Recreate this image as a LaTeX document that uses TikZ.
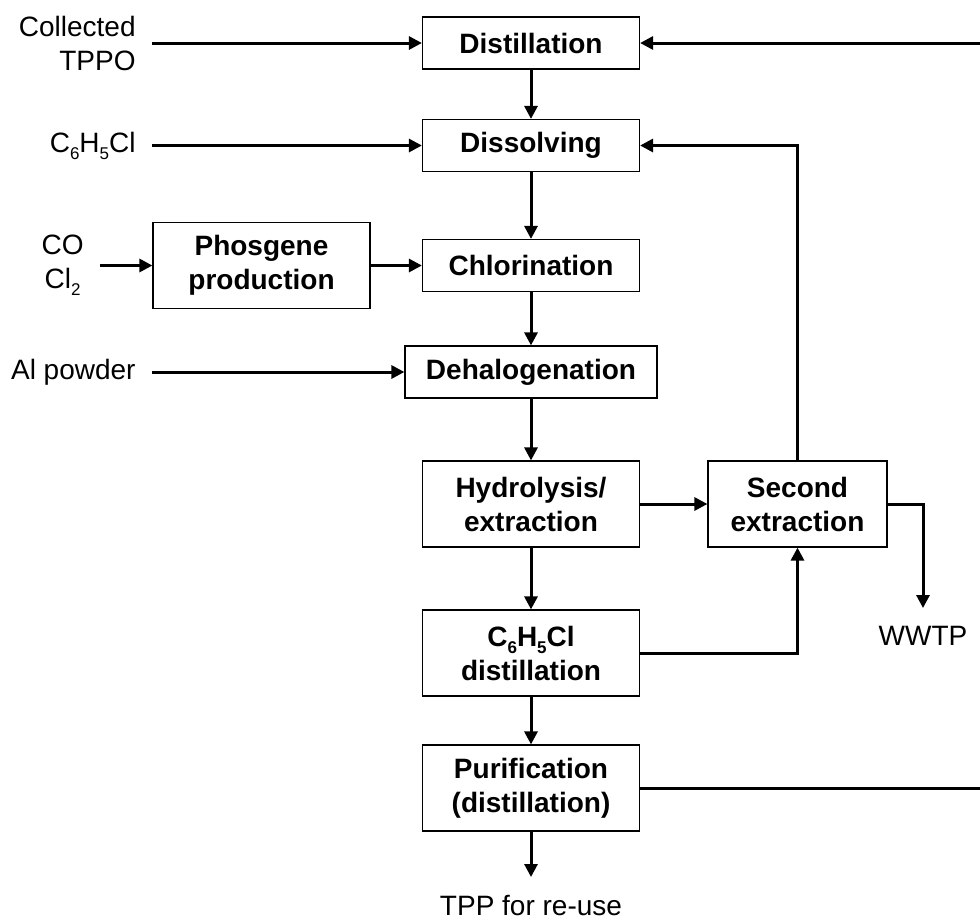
\documentclass[tikz,border=0pt]{standalone}
\usepackage{fontspec}
\setmainfont{Liberation Sans}
\usetikzlibrary{arrows.meta}

\newcommand{\chemsub}[1]{\raisebox{-0.25em}{\fontsize{8.5}{8.5}\selectfont #1}}
\newcommand{\cbz}{C\chemsub{6}H\chemsub{5}Cl}

\begin{document}
\begin{tikzpicture}[x=0.5pt, y=-0.5pt, font=\fontsize{14}{17}\selectfont,
  box/.style={draw, line width=0.6pt, align=center, inner sep=0pt,
    font=\fontsize{14}{17}\selectfont\bfseries,
    minimum width=108.5pt, minimum height=26pt},
  tallbox/.style={box, minimum height=43pt},
  widebox/.style={box, minimum width=126pt},
  feed/.style={anchor=east, inner xsep=8pt, inner ysep=0pt},
  outlet/.style={anchor=north, inner ysep=9pt},
  flow/.style={line width=1.5pt, -{Triangle[length=6.5pt, width=6.5pt]}}]
  \useasboundingbox (0,0) rectangle (980,917);
  % process units
  \node[box] (dist) at (531,43) {Distillation};
  \node[box] (diss) at (531,145.5) {Dissolving};
  \node[tallbox] (phos) at (261.5,265.5) {Phosgene\\production};
  \node[box] (chlor) at (531,265.5) {Chlorination};
  \node[widebox] (dehal) at (531,372) {Dehalogenation};
  \node[widebox, tallbox] (hydro) at (531,504) {Hydrolysis/\\extraction};
  \node[tallbox, minimum width=89.5pt] (second) at (797.5,504) {Second\\extraction};
  \node[tallbox] (cdist) at (531,653) {\cbz\\distillation};
  \node[tallbox] (purif) at (531,788) {Purification\\(distillation)};
  % feeds and outlets
  \node[feed, align=right] (tppo) at (152,43) {Collected\\TPPO};
  \node[feed] (cbin) at (152,145.5) {\cbz};
  \node[feed, align=center] (gas) at (100,265.5) {CO\\Cl\chemsub{2}};
  \node[feed] (al) at (152,372) {Al powder};
  \node[outlet] (wwtp) at (923,608) {WWTP};
  \node[outlet] (tpp) at (531,877) {TPP for re-use};
  \coordinate (ret) at (1010,788);
  % main line
  \draw[flow] (dist) -- (diss);
  \draw[flow] (diss) -- (chlor);
  \draw[flow] (chlor) -- (dehal);
  \draw[flow] (dehal) -- (hydro);
  \draw[flow] (hydro) -- (cdist);
  \draw[flow] (cdist) -- (purif);
  \draw[flow] (purif) -- (tpp);
  % inputs
  \draw[flow] (tppo.east) -- (dist.west);
  \draw[flow] (cbin.east) -- (diss.west);
  \draw[flow] (gas.east) -- (phos.west);
  \draw[flow] (phos.east) -- (chlor.west);
  \draw[flow] (al.east) -- (dehal.west);
  % recycles
  \draw[flow] (hydro.east) -- (second.west);
  \draw[flow] (cdist.east) -| (second.south);
  \draw[flow] (second.north) |- (diss.east);
  \draw[flow] (second.east) -| (wwtp.north);
  \draw[flow] (purif.east) -- (ret) |- (dist.east);
\end{tikzpicture}
\end{document}
